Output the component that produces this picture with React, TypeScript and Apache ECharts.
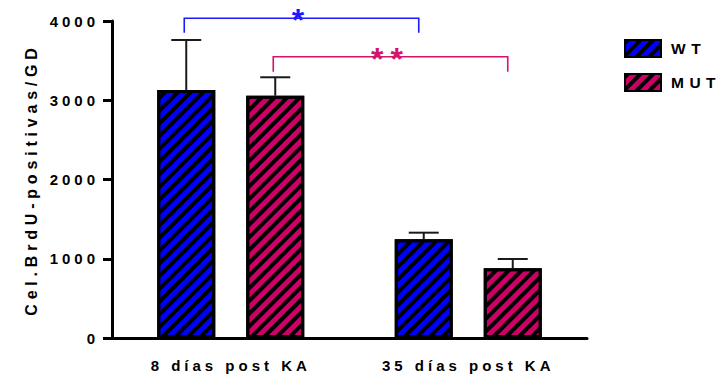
import React, { useEffect, useRef } from 'react';
import * as echarts from 'echarts';

const categories = ['8 días post KA', '35 días post KA'];
const seriesNames = ['WT', 'MUT'];
const wtValues = [3130, 1245];
const mutValues = [3057, 880];
const wtErrors = [630, 84];
const mutErrors = [233, 117];
const yAxisMax = 4000;
const yAxisInterval = 1000;
const yAxisTitle = 'Cel.BrdU-positivas/GD';
const bracketSeriesIndex = [0, 1];
const bracketTop = [4034, 3549];
const bracketLegEnd = [3852, 3360];
const bracketLabels = ['*', '**'];

const BLUE = '#0000ff';
const PINK = '#cc0066';
const BRACKET_COLORS = ['#1a1aff', '#d4136f'];
const FONT = '"Liberation Sans", Arial, sans-serif';
const BAR_W = 58;
const GAP_PX = 31;

const offsetFor = (idx: number) => (idx - 0.5) * (BAR_W + GAP_PX);

const decal = {
  symbol: 'rect',
  symbolSize: 1,
  dashArrayX: [1, 0],
  dashArrayY: [4, 4.5],
  rotation: -Math.PI / 4,
  color: '#000',
};

function errorSeries(idx: number, values: number[], errors: number[]) {
  return {
    type: 'custom',
    name: seriesNames[idx] + '-err',
    z: 5,
    clip: false,
    data: values.map((v, i) => [i, v, errors[i]]),
    encode: { x: 0, y: 1 },
    renderItem: (params: any, api: any) => {
      const cat = api.value(0);
      const v = api.value(1);
      const e = api.value(2);
      const base = api.coord([cat, v]);
      const top = api.coord([cat, v + e]);
      const x = base[0] + offsetFor(idx);
      const st = { stroke: '#1a1a1a', lineWidth: 2 };
      return {
        type: 'group',
        children: [
          { type: 'line', shape: { x1: x, y1: base[1], x2: x, y2: top[1] }, style: st },
          { type: 'line', shape: { x1: x - 15, y1: top[1], x2: x + 15, y2: top[1] }, style: st },
        ],
      };
    },
  };
}

const bracketSeries = {
  type: 'custom',
  name: 'brackets',
  z: 6,
  clip: false,
  data: bracketTop.map((t, k) => [0, t, 1, bracketLegEnd[k], bracketSeriesIndex[k]]),
  encode: { x: 0, y: 1 },
  renderItem: (params: any, api: any) => {
    const k = params.dataIndex;
    const sIdx = api.value(4);
    const p1 = api.coord([api.value(0), api.value(1)]);
    const p2 = api.coord([api.value(2), api.value(1)]);
    const legY = api.coord([api.value(0), api.value(3)])[1];
    const x1 = p1[0] + offsetFor(sIdx) - 2;
    const x2 = p2[0] + offsetFor(sIdx) - 5;
    const y = p1[1];
    const color = BRACKET_COLORS[k];
    return {
      type: 'group',
      children: [
        {
          type: 'polyline',
          shape: { points: [[x1, legY], [x1, y], [x2, y], [x2, legY]] },
          style: { stroke: color, lineWidth: 1.6, fill: 'none' },
        },
        {
          type: 'text',
          x: (x1 + x2) / 2,
          y: y + 2,
          style: {
            text: bracketLabels[k],
            fill: color,
            fontSize: 32,
            fontWeight: 'bold',
            fontFamily: FONT,
            align: 'center',
            verticalAlign: 'middle',
          },
        },
      ],
    };
  },
};

export default function App() {
  const ref = useRef<HTMLDivElement>(null);
  useEffect(() => {
    document.body.style.margin = '0';
    const chart = echarts.init(ref.current!, null, { renderer: 'svg' });
    const labelStyle = { color: '#000', fontWeight: 'bold', fontFamily: FONT, fontSize: 15 };
    chart.setOption({
      animation: false,
      grid: { left: 112, right: 136, top: 21, bottom: 39, containLabel: false },
      legend: {
        data: seriesNames,
        orient: 'vertical',
        left: 619,
        top: 34,
        itemWidth: 36,
        itemHeight: 17,
        itemGap: 15,
        icon: 'rect',
        textStyle: { color: '#000', fontWeight: 'bold', fontFamily: FONT, fontSize: 15.5, padding: [0, 0, 0, 5] },
      },
      xAxis: {
        type: 'category',
        data: categories,
        axisLine: { lineStyle: { color: '#000', width: 3 } },
        axisTick: { alignWithLabel: true, length: 9, lineStyle: { color: '#000', width: 3 } },
        axisLabel: { ...labelStyle, margin: 20 },
      },
      yAxis: {
        type: 'value',
        min: 0,
        max: yAxisMax,
        interval: yAxisInterval,
        name: yAxisTitle,
        nameLocation: 'middle',
        nameGap: 73,
        nameTextStyle: { color: '#000', fontWeight: 'bold', fontFamily: FONT, fontSize: 16 },
        axisLine: { show: true, lineStyle: { color: '#000', width: 3 } },
        axisTick: { show: true, length: 9, lineStyle: { color: '#000', width: 3 } },
        axisLabel: { ...labelStyle, margin: 13, formatter: (v: number) => String(v) },
        splitLine: { show: false },
      },
      series: [
        {
          type: 'bar',
          name: seriesNames[0],
          data: wtValues,
          barWidth: BAR_W,
          barGap: (GAP_PX / BAR_W) * 100 + '%',
          itemStyle: { color: BLUE, borderColor: '#000', borderWidth: 3, decal },
        },
        {
          type: 'bar',
          name: seriesNames[1],
          data: mutValues,
          barWidth: BAR_W,
          barGap: (GAP_PX / BAR_W) * 100 + '%',
          itemStyle: { color: PINK, borderColor: '#000', borderWidth: 3, decal },
        },
        errorSeries(0, wtValues, wtErrors),
        errorSeries(1, mutValues, mutErrors),
        bracketSeries,
      ],
    });
    return () => chart.dispose();
  }, []);
  return (
    <>
      <style>{`
        #chart text[style*="15px"] { letter-spacing: 4px; }
        #chart text[style*="15.5px"] { letter-spacing: 5.5px; }
        #chart text[style*="16px"] { letter-spacing: 4.8px; }
        #chart text[style*="32px"] { letter-spacing: 7px; }
      `}</style>
      <div id="chart" ref={ref} style={{ width: 723, height: 377 }} />
    </>
  );
}
